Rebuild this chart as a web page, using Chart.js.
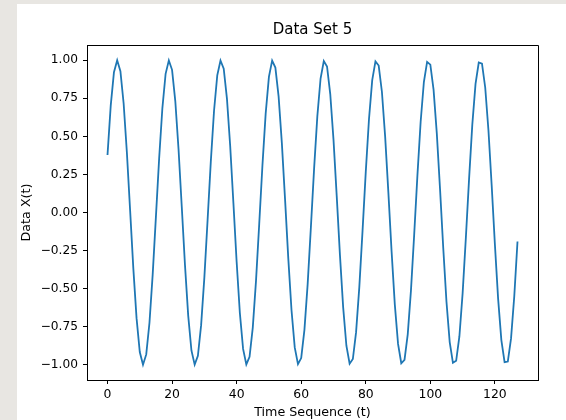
<!DOCTYPE html>
<html>
<head>
<meta charset="utf-8">
<script src="https://cdn.jsdelivr.net/npm/chart.js@4"></script>
<style>
  html, body { margin: 0; padding: 0; background: #e8e6e2; width: 566px; height: 420px; overflow: hidden; }
  #chartSignal { position: absolute; left: 17px; top: 4px; background: #fff; }
</style>
</head>
<body>
<canvas id="chartSignal" width="549" height="416"></canvas>
<script>
// ===============================
// DATA
// ===============================
const chartTitle = "Data Set 5";
const xAxisTitle = "Time Sequence (t)";
const yAxisTitle = "Data X(t)";

const xTicks = [0, 20, 40, 60, 80, 100, 120];
const yTicks = [-1.0, -0.75, -0.5, -0.25, 0.0, 0.25, 0.5, 0.75, 1.0];

// one value per time step t = 0..127
const signalX = [
  0.378, 0.702, 0.921, 1.000, 0.928, 0.716, 0.396, 0.016, -0.367, -0.694, -0.916, -1.000, -0.932, -0.724, -0.406, -0.027,
  0.356, 0.686, 0.911, 0.999, 0.937, 0.732, 0.417, 0.039, -0.345, -0.677, -0.906, -0.999, -0.941, -0.740, -0.428, -0.051,
  0.334, 0.668, 0.901, 0.998, 0.945, 0.748, 0.438, 0.062, -0.323, -0.660, -0.896, -0.998, -0.948, -0.756, -0.449, -0.074,
  0.312, 0.651, 0.891, 0.997, 0.952, 0.763, 0.459, 0.086, -0.301, -0.642, -0.886, -0.996, -0.956, -0.771, -0.470, -0.097,
  0.290, 0.633, 0.880, 0.995, 0.959, 0.778, 0.480, 0.109, -0.278, -0.623, -0.875, -0.993, -0.962, -0.786, -0.490, -0.121,
  0.267, 0.614, 0.869, 0.992, 0.965, 0.793, 0.500, 0.132, -0.256, -0.605, -0.863, -0.990, -0.968, -0.800, -0.511, -0.144,
  0.244, 0.596, 0.857, 0.989, 0.971, 0.807, 0.521, 0.156, -0.233, -0.586, -0.851, -0.987, -0.974, -0.814, -0.531, -0.167,
  0.221, 0.577, 0.845, 0.985, 0.977, 0.821, 0.540, 0.179, -0.210, -0.567, -0.838, -0.983, -0.979, -0.827, -0.550, -0.190
];

// ===============================
// PLUGINS
// ===============================
const FONT = "'DejaVu Sans', sans-serif";

// top/right spines + title above the axes
const marcoTitulo = {
  id: "marcoTitulo",
  afterDraw(chart) {
    const { ctx, chartArea: a } = chart;
    ctx.save();
    ctx.strokeStyle = "#000";
    ctx.lineWidth = 1;
    ctx.beginPath();
    ctx.moveTo(Math.round(a.left) + 0.5, Math.round(a.top) + 0.5);
    ctx.lineTo(Math.round(a.right) + 0.5, Math.round(a.top) + 0.5);
    ctx.lineTo(Math.round(a.right) + 0.5, Math.round(a.bottom) + 0.5);
    ctx.stroke();

    ctx.fillStyle = "#000";
    ctx.font = "15px " + FONT;
    ctx.textAlign = "center";
    ctx.textBaseline = "middle";
    ctx.fillText(chartTitle, (a.left + a.right) / 2, 26.5);
    ctx.restore();
  }
};

const fmtY = v => (v < 0 ? "\u2212" : "") + Math.abs(v).toFixed(2);

// ===============================
// CHART
// ===============================
new Chart(document.getElementById("chartSignal"), {
  type: "line",
  data: {
    datasets: [{
      data: signalX.map((v, i) => ({ x: i, y: v })),
      borderColor: "#1f77b4",
      borderWidth: 1.8,
      pointRadius: 0,
      tension: 0,
      fill: false
    }]
  },
  options: {
    responsive: false,
    animation: false,
    devicePixelRatio: 1,
    layout: { padding: { left: 0, top: 41, right: 28, bottom: 0 } },
    plugins: { legend: { display: false }, tooltip: { enabled: false }, title: { display: false } },
    scales: {
      x: {
        type: "linear",
        min: -6.35,
        max: 133.35,
        afterBuildTicks: s => { s.ticks = xTicks.map(v => ({ value: v })); },
        afterFit: s => { s.height = 40; },
        ticks: { color: "#000", font: { family: FONT, size: 12.4 }, padding: 3, maxRotation: 0, autoSkip: false,
                 callback: v => String(v) },
        grid: { drawOnChartArea: false, drawTicks: true, tickLength: 4, color: "#000" },
        border: { display: true, color: "#000", width: 1 },
        title: { display: true, text: xAxisTitle, color: "#000", font: { family: FONT, size: 12.7 },
                 padding: { top: 0, bottom: 0 } }
      },
      y: {
        type: "linear",
        min: -1.1,
        max: 1.1,
        afterBuildTicks: s => { s.ticks = yTicks.map(v => ({ value: v })); },
        afterFit: s => { s.width = 70; },
        ticks: { color: "#000", font: { family: FONT, size: 12.2 }, padding: 5, autoSkip: false,
                 callback: v => fmtY(v) },
        grid: { drawOnChartArea: false, drawTicks: true, tickLength: 4, color: "#000" },
        border: { display: true, color: "#000", width: 1 },
        title: { display: true, text: yAxisTitle, color: "#000", font: { family: FONT, size: 12.7 },
                 padding: { top: 2.5, bottom: 0 } }
      }
    }
  },
  plugins: [marcoTitulo]
});
</script>
</body>
</html>
